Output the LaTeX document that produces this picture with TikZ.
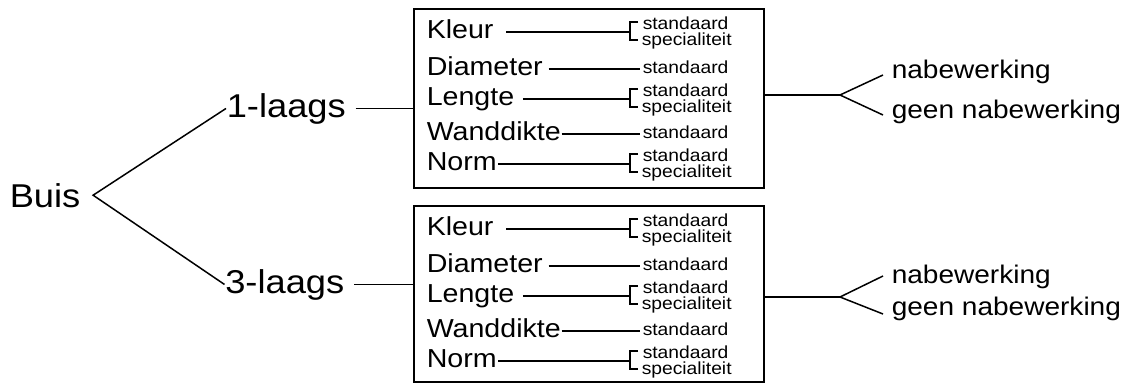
\documentclass[tikz,border=0pt]{standalone}
\usepackage{fontspec}
\setmainfont{Liberation Sans}[FakeStretch=1.1]
\begin{document}
\begin{tikzpicture}[x=1pt,y=-1pt,
  line width=1.5pt,
  txt/.style={inner sep=0pt, anchor=base west},
  big/.style={txt, font=\fontsize{33}{33}\selectfont},
  rowlabel/.style={inner sep=0pt, anchor=west, text height=17pt, text depth=5pt,
    font=\fontsize{26}{26}\selectfont},
  optlabel/.style={txt, font=\fontsize{17.5}{17.5}\selectfont},
  reslabel/.style={txt, font=\fontsize{25.5}{25.5}\selectfont},
  groupbox/.style={draw, rectangle, inner sep=0pt, minimum width=350pt, anchor=north west},
]
\useasboundingbox (0,0) rectangle (1127,383);

% root and the two pipe types
\node[big] (buis)  at (9,207)   {Buis};
\node[big] (one)   at (226,117) {1-laags};
\node[big] (three) at (224.5,293) {3-laags};
\coordinate (v) at ([xshift=12pt]buis.east);
\draw (one.west) -- (v) -- (three.west);

% property boxes: name, top, height
\foreach \g/\t/\h in {1/8/179, 2/205/176} {
  \node[groupbox, minimum height=\h pt] (box\g) at (413,\t) {};
  % label / offset from box top / gap after label / 1 = single option, 2 = pair
  \foreach \lab/\dy/\gap/\kind [count=\i] in
      {Kleur/24/12/2, Diameter/61/5/1, Lengte/91/8/2, Wanddikte/126/0/1, Norm/156/1/2} {
    \node[rowlabel] (r\g\i) at (426,{\t+\dy}) {\lab};
    \ifnum\kind=2
      \coordinate (j\g\i) at (630,{\t+\dy});
      \draw ([xshift=\gap pt]r\g\i.east) -- (j\g\i);
      \draw (j\g\i) ++(8,-10) -- ++(-8,0) -- ++(0,18) -- ++(8,0);
      \node[optlabel] (s\g\i) at (642,{\t+\dy-2.5})  {standaard};
      \node[optlabel] (p\g\i) at (641,{\t+\dy+13.5}) {specialiteit};
    \else
      \node[optlabel] (s\g\i) at (642,{\t+\dy+4}) {standaard};
      \coordinate (j\g\i) at (640,{\t+\dy});
      \draw ([xshift=\gap pt]r\g\i.east) -- (j\g\i);
    \fi
  }
}

% type labels to their boxes
\draw ([xshift=9pt]one.east) -- (one.east -| box1.west);
\draw ([xshift=9pt]three.east) -- (three.east -| box2.west);

% finishing choices
\coordinate (f1) at (840,95);
\coordinate (u1) at (883,75);
\coordinate (w1) at (883,115);
\draw (f1 -| box1.east) -- (f1);
\draw (u1) -- (f1) -- (w1);
\node[reslabel] (nb1) at (891,78)  {nabewerking};
\node[reslabel] (gn1) at (891,118) {geen nabewerking};

\coordinate (f2) at (840,297);
\coordinate (u2) at (883,276);
\coordinate (w2) at (883,314);
\draw (f2 -| box2.east) -- (f2);
\draw (u2) -- (f2) -- (w2);
\node[reslabel] (nb2) at (891,283) {nabewerking};
\node[reslabel] (gn2) at (891,315) {geen nabewerking};
\end{tikzpicture}
\end{document}
